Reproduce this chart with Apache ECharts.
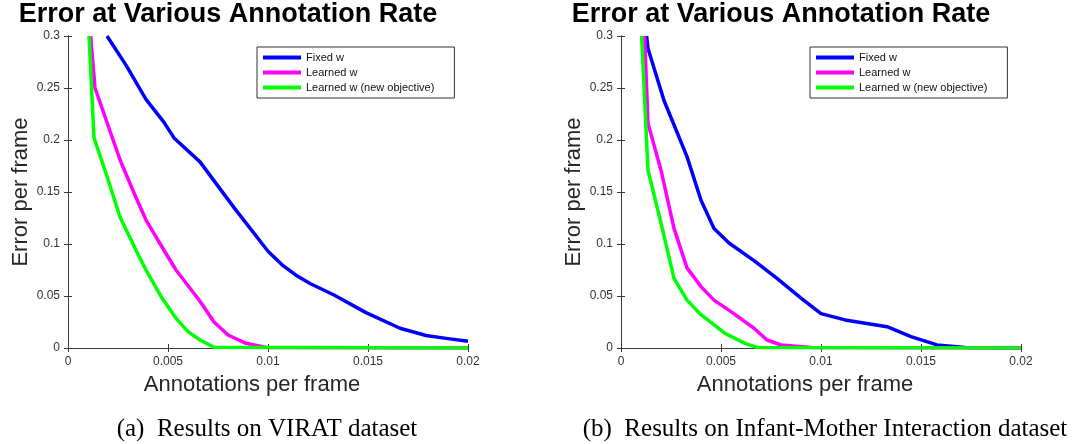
<!DOCTYPE html>
<html>
<head>
<meta charset="utf-8">
<script src="https://cdn.jsdelivr.net/npm/echarts@6/dist/echarts.min.js"></script>
<style>
html,body{margin:0;padding:0;background:#fff;}
#chart{width:1088px;height:444px;}
</style>
</head>
<body>
<div id="chart"></div>
<script>
// ---- Data ----
const seriesNames = ['Fixed w', 'Learned w', 'Learned w (new objective)'];
const xTicks = [0, 0.005, 0.01, 0.015, 0.02];
const yTicks = [0, 0.05, 0.1, 0.15, 0.2, 0.25, 0.3];

// (a) VIRAT dataset
const viratFixedX   = [0.00195, 0.0029, 0.0039, 0.0048, 0.0053, 0.0066, 0.0083, 0.0100, 0.0107, 0.0114, 0.0121, 0.0133, 0.0149, 0.0166, 0.0179, 0.0190, 0.0200];
const viratFixedY   = [0.300, 0.272, 0.239, 0.217, 0.202, 0.179, 0.135, 0.093, 0.080, 0.070, 0.062, 0.051, 0.034, 0.019, 0.012, 0.009, 0.0065];
const viratLearnedX = [0.00113, 0.00135, 0.0026, 0.0033, 0.0039, 0.0048, 0.0054, 0.0066, 0.0073, 0.0080, 0.0089, 0.0099, 0.0200];
const viratLearnedY = [0.300, 0.250, 0.181, 0.149, 0.123, 0.094, 0.075, 0.045, 0.025, 0.0125, 0.0045, 0.0006, 0];
const viratNewX     = [0.00105, 0.0013, 0.0019, 0.0026, 0.0034, 0.0039, 0.0047, 0.0054, 0.0060, 0.0066, 0.0073, 0.0200];
const viratNewY     = [0.300, 0.202, 0.168, 0.126, 0.094, 0.075, 0.048, 0.0285, 0.0157, 0.0077, 0.0007, 0];

// (b) Infant-Mother Interaction dataset
const imFixedX   = [0.00128, 0.00135, 0.00215, 0.0033, 0.0040, 0.00465, 0.0054, 0.00665, 0.0078, 0.0090, 0.0100, 0.0112, 0.0133, 0.0145, 0.0158, 0.0172, 0.0200];
const imFixedY   = [0.300, 0.288, 0.238, 0.184, 0.142, 0.115, 0.101, 0.084, 0.067, 0.048, 0.033, 0.027, 0.0205, 0.011, 0.003, 0.0006, 0];
const imLearnedX = [0.00118, 0.00135, 0.0020, 0.00265, 0.0033, 0.0040, 0.00465, 0.0055, 0.00665, 0.0073, 0.0080, 0.0095, 0.0200];
const imLearnedY = [0.300, 0.216, 0.171, 0.115, 0.077, 0.059, 0.046, 0.035, 0.019, 0.0077, 0.0029, 0.0005, 0];
const imNewX     = [0.00103, 0.00135, 0.0020, 0.00265, 0.0033, 0.0040, 0.0052, 0.0062, 0.0068, 0.0200];
const imNewY     = [0.300, 0.171, 0.120, 0.067, 0.046, 0.032, 0.014, 0.0045, 0.0006, 0];

const titleText = 'Error at Various Annotation Rate';
const xName = 'Annotations per frame';
const yName = 'Error per frame';
const captionA = '(a)  Results on VIRAT dataset';
const captionB = '(b)  Results on Infant-Mother Interaction dataset';

// ---- Build option ----
const colors = ['#0000ff', '#ff00ff', '#00ff00'];
const SANS = '"Liberation Sans", Arial, Helvetica, sans-serif';
const SERIF = '"Liberation Serif", "Times New Roman", serif';
const AX = '#3a3a3a';

function zip(xs, ys) { return xs.map((x, i) => [x, ys[i]]); }

const grids = [
  { left: 68, right: 620, top: 36, bottom: 96 },
  { left: 621, right: 67, top: 36, bottom: 96 }
];

const xAxes = [], yAxes = [];
grids.forEach((g, gi) => {
  xAxes.push({
    type: 'value', gridIndex: gi, min: xTicks[0], max: xTicks[xTicks.length - 1], interval: xTicks[1] - xTicks[0],
    position: 'bottom',
    name: xName, nameLocation: 'middle', nameGap: 26,
    nameTextStyle: { fontFamily: SANS, fontSize: 22, color: '#262626', padding: [0, 32, 0, 0] },
    axisLine: { show: true, lineStyle: { color: AX, width: 1 } },
    axisTick: { show: true, inside: true, length: 4, lineStyle: { color: AX } },
    axisLabel: { fontFamily: SANS, fontSize: 12, color: '#333', margin: 8 },
    splitLine: { show: false }
  });
  xAxes.push({
    type: 'value', gridIndex: gi, min: xTicks[0], max: xTicks[xTicks.length - 1], interval: xTicks[1] - xTicks[0],
    position: 'top',
    axisLine: { show: true, lineStyle: { color: AX, width: 1 } },
    axisTick: { show: true, inside: true, length: 4, lineStyle: { color: AX } },
    axisLabel: { show: false },
    splitLine: { show: false }
  });
  yAxes.push({
    type: 'value', gridIndex: gi, min: yTicks[0], max: yTicks[yTicks.length - 1], interval: yTicks[1] - yTicks[0],
    position: 'left',
    name: yName, nameLocation: 'middle', nameGap: 36, nameRotate: 90,
    nameTextStyle: { fontFamily: SANS, fontSize: 22, color: '#262626' },
    axisLine: { show: true, lineStyle: { color: AX, width: 1 } },
    axisTick: { show: true, inside: true, length: 4, lineStyle: { color: AX } },
    axisLabel: { fontFamily: SANS, fontSize: 12, color: '#333', margin: 8 },
    splitLine: { show: false }
  });
  yAxes.push({
    type: 'value', gridIndex: gi, min: yTicks[0], max: yTicks[yTicks.length - 1], interval: yTicks[1] - yTicks[0],
    position: 'right',
    axisLine: { show: true, lineStyle: { color: AX, width: 1 } },
    axisTick: { show: true, inside: true, length: 4, lineStyle: { color: AX } },
    axisLabel: { show: false },
    splitLine: { show: false }
  });
});

const panels = [
  [zip(viratFixedX, viratFixedY), zip(viratLearnedX, viratLearnedY), zip(viratNewX, viratNewY)],
  [zip(imFixedX, imFixedY), zip(imLearnedX, imLearnedY), zip(imNewX, imNewY)]
];

const series = [];
panels.forEach((p, gi) => {
  p.forEach((d, si) => {
    series.push({
      name: seriesNames[si], type: 'line', xAxisIndex: gi * 2, yAxisIndex: gi * 2,
      data: d, symbol: 'none', showSymbol: false, clip: true, animation: false,
      lineStyle: { color: colors[si], width: 3.5, join: 'round' },
      itemStyle: { color: colors[si] },
      z: 2 + si
    });
  });
});

function legendAt(left) {
  return {
    left: left, top: 47, orient: 'vertical', selectedMode: false,
    icon: 'rect', itemWidth: 38, itemHeight: 4, itemGap: 4,
    padding: [5, 20, 5, 6],
    borderColor: '#333', borderWidth: 1, backgroundColor: '#fff',
    textStyle: { fontFamily: SANS, fontSize: 11, color: '#111', lineHeight: 11 },
    data: seriesNames
  };
}

function txt(text, x, y, font, color) {
  return { type: 'text', x: x, y: y, silent: true,
    style: { text: text, font: font, fill: color || '#000', textAlign: 'center', textVerticalAlign: 'middle' } };
}

const option = {
  backgroundColor: '#fff',
  animation: false,
  color: colors,
  grid: grids,
  xAxis: xAxes,
  yAxis: yAxes,
  legend: [legendAt(257), legendAt(810)],
  series: series,
  graphic: [
    txt(titleText, 228, 15, 'bold 27px ' + SANS, '#000'),
    txt(titleText, 781, 15, 'bold 27px ' + SANS, '#000'),
    txt(captionA, 267, 429, '25px ' + SERIF, '#000'),
    txt(captionB, 825, 429, '25px ' + SERIF, '#000')
  ]
};

const chart = echarts.init(document.getElementById('chart'), null, { renderer: 'canvas' });
chart.setOption(option);
</script>
</body>
</html>
